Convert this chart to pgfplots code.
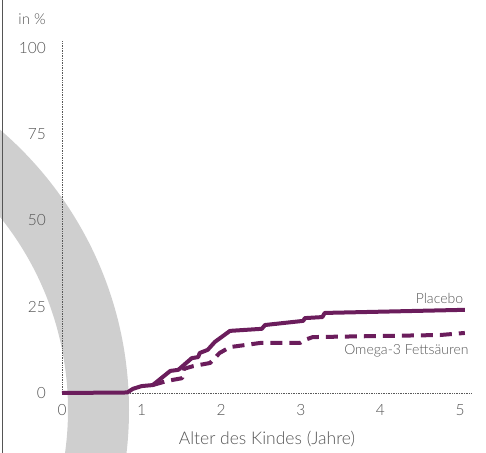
\documentclass[border=0pt]{standalone}
\usepackage{pgfplots}
\pgfplotsset{compat=1.18}
\usepackage{fontspec}
\setmainfont{Lato}[UprightFont=* Light]
\definecolor{plum}{HTML}{6B1D5C}
\definecolor{arcgray}{HTML}{CFCFCF}
\definecolor{txt}{HTML}{555555}
\begin{document}
\begin{tikzpicture}[x=1bp,y=1bp]
\useasboundingbox (0,0) rectangle (486,453);
\begin{scope}
\clip (0,0) rectangle (486,453);
\fill[arcgray, even odd rule] (-240,43) circle[radius=369] (-240,43) circle[radius=308];
\end{scope}
\draw[txt, line width=1.3bp] (2.5,0) -- (2.5,453);
\node[anchor=east, inner sep=0pt, text=txt, font=\fontsize{15bp}{18bp}\selectfont] at (46,434) {in \%};
\begin{axis}[
  at={(62bp,60bp)}, anchor=south west,
  width=410bp, height=352bp, scale only axis,
  xmin=0, xmax=5.15, ymin=0, ymax=102,
  clip=false,
  axis x line*=bottom, axis y line*=left,
  axis line style={-, densely dotted, line width=0.7bp, black!65},
  xtick={0,1,2,3,4,5}, ytick={0,25,50,75,100},
  major tick length=0pt,
  tick label style={text=txt, font=\fontsize{15.5bp}{18bp}\selectfont, /pgf/number format/assume math mode=true},
  yticklabel style={inner sep=0pt, xshift=-16bp},
  xticklabel style={inner sep=0pt, anchor=north, yshift=-11bp},
  xlabel={Alter des Kindes (Jahre)},
  xlabel style={text=txt, font=\fontsize{17.5bp}{20bp}\selectfont, inner sep=0pt, anchor=south, at={(axis description cs:0.5,0)}, yshift=-54bp},
]
\addplot[plum, line width=4bp, line join=round] coordinates {
(0,0) (0.82,0.15) (0.89,1.2) (1.0,2.0) (1.14,2.3) (1.36,6.4) (1.46,6.7) (1.63,10.1) (1.71,10.4) (1.73,11.6) (1.83,12.5) (1.92,14.8) (2.11,18.0) (2.51,18.6) (2.55,19.7) (3.03,20.9) (3.05,21.7) (3.27,22.0) (3.30,23.2) (5.06,24.1)
};
\addplot[plum, line width=4bp, line join=round, dash pattern=on 12bp off 7bp] coordinates {
(1.14,2.3) (1.23,2.9) (1.32,3.5) (1.51,4.3) (1.53,7.0) (1.65,7.8) (1.86,8.7) (1.98,11.6) (2.11,13.3) (2.49,14.5) (2.99,14.5) (3.05,15.4) (3.15,16.2) (4.75,16.8) (5.06,17.4)
};
\node[anchor=east, inner sep=0pt, text=txt, font=\fontsize{14bp}{17bp}\selectfont] at (axis cs:5.04,27.5) {Placebo};
\node[anchor=east, inner sep=0pt, text=txt, font=\fontsize{14bp}{17bp}\selectfont] at (axis cs:5.11,12.2) {Omega-3 Fettsäuren};
\end{axis}
\end{tikzpicture}
\end{document}
